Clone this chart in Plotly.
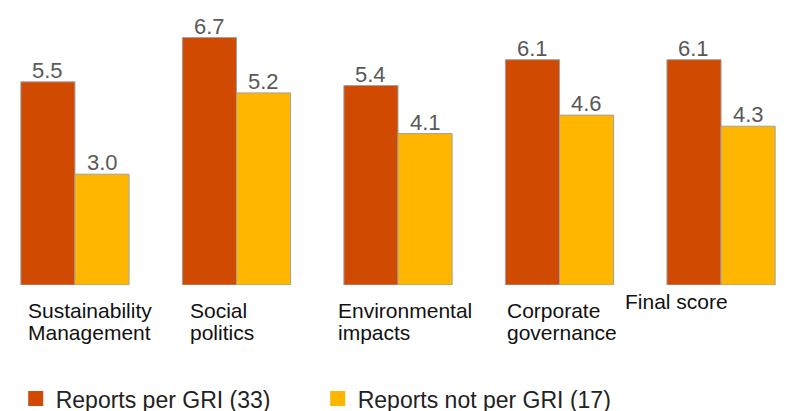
import plotly.graph_objects as go

# Scores by topic area
categories = [
    "Sustainability<br>Management",
    "Social<br>politics",
    "Environmental<br>impacts",
    "Corporate<br>governance",
    "Final score",
]
gri_scores = [5.5, 6.7, 5.4, 6.1, 6.1]
non_gri_scores = [3.0, 5.2, 4.1, 4.6, 4.3]
series_names = ["Reports per GRI (33)", "Reports not per GRI (17)"]

ORANGE = "#D04A02"
YELLOW = "#FFB600"
FONT = "Liberation Sans, Arial, sans-serif"
BARGAP = 0.33

# horizontal offsets (px) of each category caption from its group centre
caption_dx = [-49, -48, -62, -55, -98]
caption_dy = [0, 0, 0, 0, 9]

xpos = list(range(len(categories)))
half_bar = (1 - BARGAP) / 4  # centre offset of each bar inside its group

fig = go.Figure()
for k, (vals, color, name) in enumerate([(gri_scores, ORANGE, series_names[0]),
                                         (non_gri_scores, YELLOW, series_names[1])]):
    fig.add_trace(go.Bar(
        x=xpos, y=vals, name=name, showlegend=False,
        marker=dict(color=color, line=dict(color="#A0A0A0", width=1)),
    ))
    # legend swatch
    fig.add_trace(go.Scatter(
        x=[None], y=[None], mode="markers", name=name,
        marker=dict(symbol="square", size=15, color=color),
    ))
    # value labels just above each bar
    dx = -half_bar if k == 0 else half_bar
    for i, v in zip(xpos, vals):
        fig.add_annotation(
            x=i + dx, y=v, xref="x", yref="y", text=f"{v:.1f}", showarrow=False,
            xanchor="center", yanchor="bottom", yshift=-3,
            font=dict(family=FONT, size=22, color="#595959"),
        )

# category captions, one annotation per line, left aligned
for i, cat in enumerate(categories):
    for j, line in enumerate(cat.split("<br>")):
        fig.add_annotation(
            x=i, y=0, xref="x", yref="paper", text=line, showarrow=False,
            xanchor="left", yanchor="top", align="left",
            xshift=caption_dx[i], yshift=-12 - 22 * j + caption_dy[i],
            font=dict(family=FONT, size=21, color="#111111"),
        )

fig.update_layout(
    width=785, height=411,
    margin=dict(l=0, r=0, t=8, b=126, autoexpand=False),
    paper_bgcolor="white", plot_bgcolor="white",
    barmode="group", bargap=BARGAP, bargroupgap=0,
    xaxis=dict(range=[-0.464, 4.396], showticklabels=False, showgrid=False,
               zeroline=False, showline=False, ticks=""),
    yaxis=dict(range=[0, 7.5], visible=False, showgrid=False, zeroline=False),
    legend=dict(orientation="h", x=0.02, xanchor="left", y=-0.41, yanchor="middle",
                font=dict(family=FONT, size=23, color="#222222"),
                entrywidth=257, itemsizing="trace"),
    showlegend=True,
)

fig.write_html("out.html")
